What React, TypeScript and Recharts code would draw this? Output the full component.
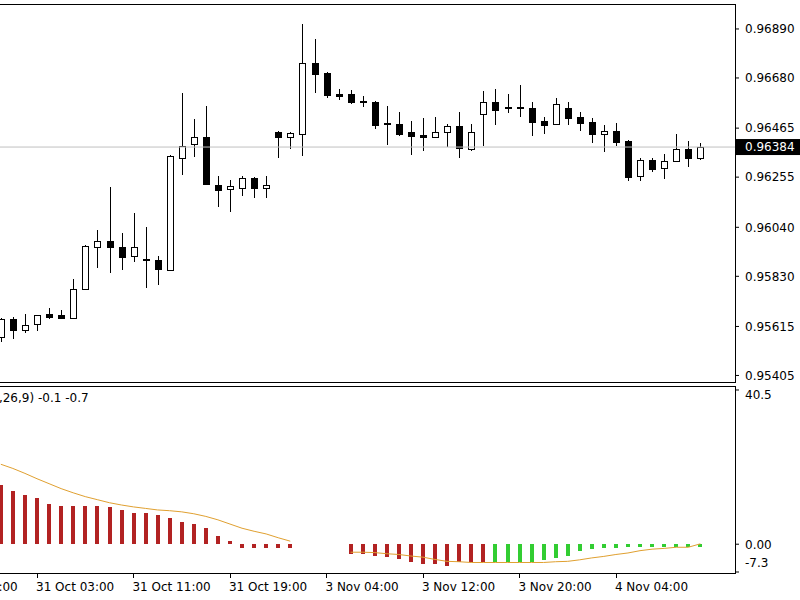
import React from "react";
import {
  ComposedChart,
  Bar,
  Line,
  XAxis,
  YAxis,
  ReferenceLine,
  Cell,
} from "recharts";

// hourly bars; the first five slots are off-screen, only their axis label shows
const times = [
  "30 Oct 19:00", "30 Oct 20:00", "30 Oct 21:00", "30 Oct 22:00", "30 Oct 23:00",
  "31 Oct 00:00", "31 Oct 01:00", "31 Oct 02:00", "31 Oct 03:00", "31 Oct 04:00",
  "31 Oct 05:00", "31 Oct 06:00", "31 Oct 07:00", "31 Oct 08:00", "31 Oct 09:00",
  "31 Oct 10:00", "31 Oct 11:00", "31 Oct 12:00", "31 Oct 13:00", "31 Oct 14:00",
  "31 Oct 15:00", "31 Oct 16:00", "31 Oct 17:00", "31 Oct 18:00", "31 Oct 19:00",
  "31 Oct 20:00", "31 Oct 21:00", "31 Oct 22:00",
  "3 Nov 00:00", "3 Nov 01:00", "3 Nov 02:00", "3 Nov 03:00", "3 Nov 04:00",
  "3 Nov 05:00", "3 Nov 06:00", "3 Nov 07:00", "3 Nov 08:00", "3 Nov 09:00",
  "3 Nov 10:00", "3 Nov 11:00", "3 Nov 12:00", "3 Nov 13:00", "3 Nov 14:00",
  "3 Nov 15:00", "3 Nov 16:00", "3 Nov 17:00", "3 Nov 18:00", "3 Nov 19:00",
  "3 Nov 20:00", "3 Nov 21:00", "3 Nov 22:00", "3 Nov 23:00",
  "4 Nov 00:00", "4 Nov 01:00", "4 Nov 02:00", "4 Nov 03:00", "4 Nov 04:00",
  "4 Nov 05:00", "4 Nov 06:00", "4 Nov 07:00", "4 Nov 08:00", "4 Nov 09:00",
  "4 Nov 10:00", "4 Nov 11:00",
];
const hiddenSlots = 5;

const timeTicks = [
  "30 Oct 19:00", "31 Oct 03:00", "31 Oct 11:00", "31 Oct 19:00",
  "3 Nov 04:00", "3 Nov 12:00", "3 Nov 20:00", "4 Nov 04:00",
];

const opens = [
  0.95568, 0.95649, 0.95602, 0.95627, 0.9567, 0.95666, 0.95653, 0.95777, 0.95957, 0.95983,
  0.95957, 0.95918, 0.95906, 0.95901, 0.95859, 0.96338, 0.96398, 0.96428, 0.96222, 0.96205,
  0.9621, 0.96252, 0.9621, 0.96449, 0.96428, 0.96441, 0.96745, 0.96702, 0.96612, 0.96612,
  0.96582, 0.96578, 0.96488, 0.96483, 0.96449, 0.96436, 0.96428, 0.96449, 0.96475, 0.96376,
  0.96526, 0.96578, 0.96556, 0.96556, 0.96552, 0.96496, 0.96483, 0.96552, 0.96513, 0.96492,
  0.96441, 0.96453, 0.96411, 0.96261, 0.96329, 0.96295, 0.96325, 0.96376, 0.96338,
];
const highs = [
  0.95653, 0.95657, 0.9567, 0.95666, 0.95696, 0.95687, 0.9582, 0.95966, 0.9603, 0.96214,
  0.96017, 0.96103, 0.96043, 0.95918, 0.96351, 0.96616, 0.96505, 0.9656, 0.96261, 0.96244,
  0.96261, 0.96257, 0.96261, 0.96453, 0.96449, 0.96911, 0.96847, 0.96706, 0.96633, 0.96629,
  0.96603, 0.96582, 0.9656, 0.96535, 0.96496, 0.96509, 0.96513, 0.96483, 0.96535, 0.96483,
  0.96625, 0.96633, 0.96612, 0.9665, 0.96578, 0.96513, 0.96595, 0.96578, 0.96535, 0.96509,
  0.96479, 0.96488, 0.96415, 0.96338, 0.96338, 0.96355, 0.96441, 0.96411, 0.96402,
];
const lows = [
  0.9555, 0.95563, 0.95589, 0.95597, 0.95649, 0.95645, 0.95649, 0.95773, 0.95867, 0.95846,
  0.95859, 0.95893, 0.95782, 0.95794, 0.95854, 0.96265, 0.96342, 0.96222, 0.96128, 0.96107,
  0.96175, 0.96167, 0.96167, 0.96338, 0.96376, 0.96346, 0.96616, 0.96595, 0.96586, 0.96569,
  0.96556, 0.96462, 0.96394, 0.96432, 0.96351, 0.96368, 0.96423, 0.96385, 0.96338, 0.96368,
  0.96389, 0.96479, 0.96531, 0.96513, 0.96432, 0.96441, 0.96479, 0.96479, 0.96453, 0.96402,
  0.96364, 0.96389, 0.96239, 0.96239, 0.96278, 0.96248, 0.96321, 0.96299, 0.96329,
];
const closes = [
  0.95645, 0.95602, 0.95623, 0.95662, 0.95657, 0.95653, 0.95777, 0.95961, 0.95983, 0.95957,
  0.95914, 0.95957, 0.95901, 0.95863, 0.96346, 0.96389, 0.96428, 0.96227, 0.96201, 0.96218,
  0.96252, 0.9621, 0.96222, 0.96428, 0.96445, 0.96745, 0.96697, 0.96608, 0.96603, 0.96578,
  0.96578, 0.96479, 0.96483, 0.96441, 0.96432, 0.96428, 0.96449, 0.96475, 0.96381, 0.96449,
  0.96578, 0.96543, 0.96552, 0.96552, 0.96492, 0.96479, 0.96569, 0.96509, 0.96488, 0.96441,
  0.96453, 0.96406, 0.96257, 0.96329, 0.96291, 0.96325, 0.96376, 0.96338, 0.96384,
];

const macdHist = [
  15.6, 14.1, 13.0, 12.2, 10.6, 10.1, 10.1, 10.1, 10.1, 9.8,
  9.0, 8.2, 8.2, 7.7, 6.9, 5.8, 5.3, 4.2, 2.1, 0.8,
  -0.9, -1.1, -1.1, -1.1, -1.1, null, null, null, null, -2.7,
  -2.7, -3.2, -3.4, -4.0, -4.8, -5.3, -5.3, -5.6, -4.8, -4.8,
  -4.8, -4.8, -4.8, -4.8, -4.8, -4.2, -3.7, -3.2, -1.9, -1.3,
  -1.0, -1.0, -0.7, -0.7, -0.7, -0.7, -0.7, -0.7, -0.7,
];
const macdSignal = [
  21.0, 19.9, 18.6, 17.2, 15.9, 14.6, 13.5, 12.5, 11.7, 10.9,
  10.3, 9.8, 9.4, 9.0, 8.8, 8.5, 8.0, 7.3, 6.4, 5.3,
  4.2, 3.4, 2.7, 1.7, 0.8, null, null, null, null, -2.1,
  -2.1, -2.2, -2.5, -2.7, -3.1, -3.4, -4.0, -4.5, -4.6, -4.8,
  -4.8, -4.8, -4.8, -4.8, -4.8, -4.8, -4.6, -4.5, -4.1, -3.6,
  -3.2, -2.7, -2.3, -1.7, -1.3, -1.1, -0.8, -0.8, 0.1,
];
const greenFrom = "3 Nov 18:00";

const priceTicks = [0.9689, 0.9668, 0.96465, 0.96384, 0.96255, 0.9604, 0.9583, 0.95615, 0.95405];
const lastPrice = 0.96384;
const macdTicks = [40.5, 0, -7.3];
const macdTickLabels = ["40.5", "0.00", "-7.3"];

const greenIdx = times.indexOf(greenFrom);
const rows = times.map((time, i) => {
  const j = i - hiddenSlots;
  const ok = j >= 0;
  return {
    time,
    open: ok ? opens[j] : null,
    high: ok ? highs[j] : null,
    low: ok ? lows[j] : null,
    close: ok ? closes[j] : null,
    range: ok ? [lows[j], highs[j]] : null,
    hist: ok ? macdHist[j] : null,
    signal: ok ? macdSignal[j] : null,
    color: i >= greenIdx ? "#32CD32" : "#B22222",
  };
});

const font = "DejaVu Sans, sans-serif";
const fs = 12;
const xPad = { left: 0, right: 28.67 };

function Candle(props: any) {
  const { x, y, width, height, payload } = props;
  if (payload == null || payload.open == null) return <g />;
  const top = Math.min(y, y + height);
  const h = Math.abs(height);
  const ppu = h / (payload.high - payload.low);
  const yOf = (v: number) => top + (payload.high - v) * ppu;
  const cx = Math.round(x + width / 2);
  const yo = yOf(payload.open);
  const yc = yOf(payload.close);
  const bTop = Math.round(Math.min(yo, yc));
  const bBot = Math.round(Math.max(yo, yc));
  const wTop = Math.round(top);
  const wBot = Math.round(top + h);
  const bull = payload.close > payload.open;
  return (
    <g shapeRendering="crispEdges">
      <rect x={cx} y={wTop} width={1} height={Math.max(1, wBot - wTop)} fill="#000" />
      {bull ? (
        <rect x={cx - 2.5} y={bTop + 0.5} width={6} height={Math.max(1, bBot - bTop)} fill="#fff" stroke="#000" strokeWidth={1} />
      ) : (
        <rect x={cx - 3} y={bTop} width={7} height={Math.max(2, bBot - bTop + 1)} fill="#000" />
      )}
    </g>
  );
}

function HistBar(props: any) {
  const { x, y, width, height, fill, value } = props;
  if (value == null) return <g />;
  const cx = Math.round(x + width / 2);
  const a = Math.round(Math.min(y, y + height));
  const b = Math.round(Math.max(y, y + height));
  return <rect x={cx - 2} y={a} width={4} height={Math.max(1, b - a)} fill={fill} shapeRendering="crispEdges" />;
}

function PriceTick(props: any) {
  const { x, y, payload } = props;
  const v = payload.value;
  if (Math.abs(v - lastPrice) < 1e-7) {
    return (
      <g>
        <rect x={x - 9} y={y - 8} width={70} height={16} fill="#000" />
        <text x={x} y={y} dy="0.36em" fontSize={fs} fontFamily={font} fill="#fff">
          {v.toFixed(5)}
        </text>
      </g>
    );
  }
  return (
    <text x={x} y={y} dy="0.36em" fontSize={fs} fontFamily={font} fill="#000">
      {v.toFixed(5)}
    </text>
  );
}

function MacdTick(props: any) {
  const { x, y, payload } = props;
  const i = macdTicks.indexOf(payload.value);
  const shift = i === 0 ? 5 : i === macdTicks.length - 1 ? -9 : 0;
  return (
    <text x={x} y={y + shift} dy="0.36em" fontSize={fs} fontFamily={font} fill="#000">
      {macdTickLabels[i]}
    </text>
  );
}

function TimeTick(props: any) {
  const { x, y, payload } = props;
  if (!timeTicks.includes(payload.value)) return <g />;
  const tx = Math.round(x) + 0.5;
  return (
    <g>
      <line x1={tx} x2={tx} y1={y} y2={y + 5} stroke="#000" />
      <text x={x - 1} y={y + 18} fontSize={fs} fontFamily={font} fill="#000">
        {payload.value}
      </text>
    </g>
  );
}

export default function App() {
  return (
    <div
      style={{
        position: "absolute",
        left: 0,
        top: 0,
        width: 800,
        height: 600,
        overflow: "hidden",
        background: "#fff",
        fontFamily: font,
      }}
    >
      <div style={{ position: "absolute", left: -66, top: 4 }}>
        <ComposedChart
          width={866}
          height={378}
          data={rows}
          margin={{ top: 0, right: 0, bottom: 0, left: 0.49 }}
        >
          <XAxis dataKey="time" hide padding={xPad} />
          <YAxis
            orientation="right"
            width={65}
            domain={[0.95377, 0.96997]}
            ticks={priceTicks}
            interval={0}
            allowDataOverflow
            axisLine={false}
            tickSize={4}
            tickMargin={6}
            tickLine={{ stroke: "#000" }}
            tick={<PriceTick />}
          />
          <ReferenceLine y={lastPrice} stroke="#C0C0C0" strokeWidth={1} />
          <Bar dataKey="range" shape={<Candle />} isAnimationActive={false} />
        </ComposedChart>
      </div>

      <div style={{ position: "absolute", left: -66, top: 386 }}>
        <ComposedChart
          width={866}
          height={214}
          data={rows}
          margin={{ top: 0, right: 0, bottom: 0, left: 0.49 }}
        >
          <XAxis
            dataKey="time"
            height={27}
            padding={xPad}
            interval={0}
            axisLine={false}
            tickLine={false}
            tickSize={0}
            tickMargin={0}
            tick={<TimeTick />}
          />
          <YAxis
            orientation="right"
            width={65}
            domain={[-7.56, 41.55]}
            ticks={macdTicks}
            interval={0}
            allowDataOverflow
            axisLine={false}
            tickSize={4}
            tickMargin={6}
            tickLine={{ stroke: "#000" }}
            tick={<MacdTick />}
          />
          <Bar dataKey="hist" shape={<HistBar />} isAnimationActive={false}>
            {rows.map((r, i) => (
              <Cell key={i} fill={r.color} />
            ))}
          </Bar>
          <Line
            type="linear"
            dataKey="signal"
            stroke="#E0A030"
            strokeWidth={1}
            dot={false}
            activeDot={false}
            connectNulls={false}
            isAnimationActive={false}
          />
        </ComposedChart>
      </div>

      <div
        style={{
          position: "absolute",
          left: -57,
          top: 391,
          fontSize: fs,
          lineHeight: "14px",
          whiteSpace: "nowrap",
          color: "#000",
        }}
      >
        MACD(12,26,9) -0.1 -0.7
      </div>

      <div
        style={{
          position: "absolute",
          left: -10,
          top: 4,
          width: 746,
          height: 379,
          border: "1px solid #000",
          boxSizing: "border-box",
          pointerEvents: "none",
        }}
      />
      <div
        style={{
          position: "absolute",
          left: -10,
          top: 386,
          width: 746,
          height: 188,
          border: "1px solid #000",
          boxSizing: "border-box",
          pointerEvents: "none",
        }}
      />
    </div>
  );
}
